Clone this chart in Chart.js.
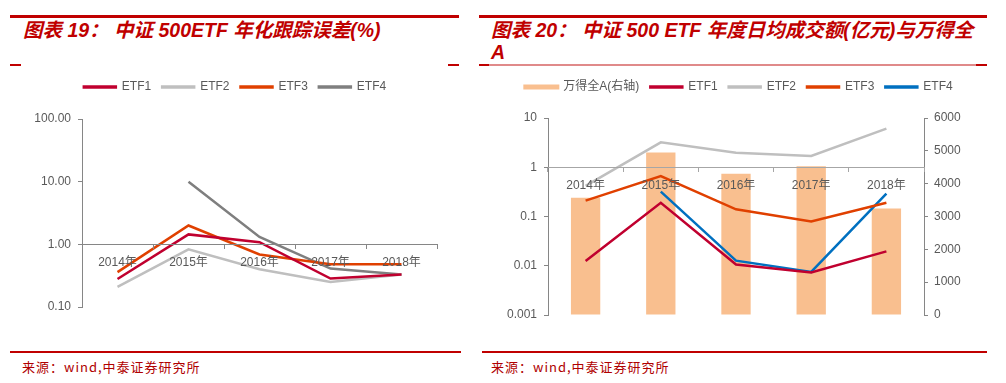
<!DOCTYPE html>
<html>
<head>
<meta charset="utf-8">
<script src="https://cdn.jsdelivr.net/npm/chart.js@4.4.1/dist/chart.umd.min.js"></script>
<style>
    html, body { margin: 0; padding: 0; background: #ffffff; }
    body { width: 1006px; height: 383px; position: relative; overflow: hidden; }
    .bar { position: absolute; background: #C00000; }
    .titulo { position: absolute; color: #C00000; font: italic bold 19.5px 'Liberation Sans', 'Noto Sans CJK SC', sans-serif; line-height: 22px; white-space: nowrap; }
    .fuente { position: absolute; color: #B00000; font: 13px 'Noto Sans CJK SC', sans-serif; letter-spacing: 1px; white-space: nowrap; }
    canvas { position: absolute; }
</style>
</head>
<body>
    <!-- cabecera izquierda -->
    <div class="bar" style="left:10px; top:15px; width:449px; height:3px;"></div>
    <div class="titulo" style="left:23px; top:19px;">图表 19：&nbsp;中证 500ETF 年化跟踪误差(%)</div>
    <div class="bar" style="left:10px; top:64px; width:11px; height:2px;"></div>
    <div class="bar" style="left:448px; top:64px; width:11px; height:2px;"></div>

    <!-- cabecera derecha -->
    <div class="bar" style="left:479px; top:15px; width:508px; height:3px;"></div>
    <div class="titulo" style="left:491px; top:19px;">图表 20：&nbsp;中证 500 ETF 年度日均成交额(亿元)与万得全<br>A</div>
    <div class="bar" style="left:479px; top:64px; width:10px; height:2px;"></div>
    <div class="bar" style="left:489px; top:64px; width:487px; height:2px; background:#E08A8A;"></div>
    <div class="bar" style="left:976px; top:64px; width:11px; height:2px;"></div>

    <canvas id="trackChart"></canvas>
    <canvas id="volumeChart"></canvas>

    <!-- pie -->
    <div class="bar" style="left:10px; top:351px; width:451px; height:2px;"></div>
    <div class="bar" style="left:482px; top:351px; width:505px; height:2px;"></div>
    <div class="fuente" style="left:22px; top:357px;">来源：wind,中泰证券研究所</div>
    <div class="fuente" style="left:491px; top:357px;">来源：wind,中泰证券研究所</div>

<script>
// Datos
const categories = ['2014年', '2015年', '2016年', '2017年', '2018年'];

// Figura 19: error de seguimiento anual (%)
const trackEtf1 = [0.28, 1.44, 1.08, 0.285, 0.33];
const trackEtf2 = [0.21, 0.83, 0.40, 0.25, 0.33];
const trackEtf3 = [0.36, 2.0, 0.69, 0.48, 0.48];
const trackEtf4 = [null, 10.0, 1.31, 0.41, 0.33];
const trackTicks = [0.1, 1, 10, 100];

// Figura 20: volumen medio diario (亿元) y 万得全A
const volEtf1 = [0.0125, 0.19, 0.0106, 0.0073, 0.0196];
const volEtf2 = [0.42, 3.2, 1.97, 1.69, 6.1];
const volEtf3 = [0.21, 0.66, 0.14, 0.079, 0.19];
const volEtf4 = [null, 0.32, 0.0127, 0.0075, 0.29];
const windA = [3570, 4950, 4300, 4530, 3240];
const volTicks = [0.001, 0.01, 0.1, 1, 10];

const FONT = "'Liberation Sans', 'Noto Sans CJK SC', sans-serif";
const TEXT_GREY = '#595959';
const AXIS_GREY = '#868686';

/**
 * Coloca un canvas en la página con tamaño fijo
 */
function placeCanvas(id, left, top, width, height) {
    const el = document.getElementById(id);
    el.style.left = left + 'px';
    el.style.top = top + 'px';
    el.width = width;
    el.height = height;
    el.style.width = width + 'px';
    el.style.height = height + 'px';
    return el;
}

/**
 * Deja solo las potencias de diez en un eje logarítmico
 */
function keepTicks(values) {
    return function (axis) {
        axis.ticks = values.map(v => ({ value: v }));
    };
}

/**
 * Fija el ancho del eje y los márgenes del área de trazado
 */
function fixBox(width, pad) {
    return function (scale) {
        scale.width = width;
        scale.paddingTop = pad.top || 0;
        scale.paddingBottom = pad.bottom || 0;
        scale.paddingRight = pad.right || 0;
        scale.paddingLeft = 0;
    };
}

function lineSet(label, data, color, yAxisID) {
    return {
        type: 'line',
        label: label,
        data: data,
        borderColor: color,
        backgroundColor: color,
        borderWidth: 2.5,
        pointRadius: 0,
        tension: 0,
        yAxisID: yAxisID,
        order: 0
    };
}

function legendOptions() {
    return {
        position: 'top',
        labels: {
            boxWidth: 32,
            boxHeight: 1,
            padding: 11,
            color: TEXT_GREY,
            font: { family: FONT, size: 12 },
            sort: (a, b) => a.datasetIndex - b.datasetIndex,
            generateLabels(chart) {
                const items = Chart.defaults.plugins.legend.labels.generateLabels(chart);
                items.forEach(it => {
                    const ds = chart.data.datasets[it.datasetIndex];
                    if (ds.type === 'bar') {
                        it.lineWidth = 4;
                        it.strokeStyle = ds.backgroundColor;
                    }
                });
                return items;
            }
        }
    };
}

// hueco vacío entre la leyenda y el área de trazado
function spacer(size) {
    return { display: true, text: ' ', weight: 500, position: 'top', padding: 0, font: { size: size, lineHeight: 1 } };
}

function xAxis(posAxis, lineColor) {
    return {
        type: 'category',
        position: { [posAxis]: 1 },
        offset: true,
        grid: { display: true, offset: true, drawOnChartArea: false, drawTicks: true, tickLength: 4, color: lineColor, z: 1 },
        border: { color: lineColor, width: 1, z: 1 },
        ticks: { color: TEXT_GREY, font: { family: FONT, size: 12 }, padding: 7, maxRotation: 0, z: 1 }
    };
}

/**
 * Figura 19 - error de seguimiento (escala logarítmica)
 */
function initTrackChart() {
    const ctx = placeCanvas('trackChart', 0, 70, 470, 260);
    new Chart(ctx, {
        type: 'line',
        data: {
            labels: categories,
            datasets: [
                lineSet('ETF1', trackEtf1, '#C0002F', 'y'),
                lineSet('ETF2', trackEtf2, '#BFBFBF', 'y'),
                lineSet('ETF3', trackEtf3, '#E04000', 'y'),
                lineSet('ETF4', trackEtf4, '#7F7F7F', 'y')
            ]
        },
        options: {
            responsive: false,
            animation: false,
            layout: { padding: 0 },
            plugins: { legend: legendOptions(), title: spacer(16), tooltip: { enabled: false } },
            scales: {
                x: xAxis('y', AXIS_GREY),
                y: {
                    type: 'logarithmic',
                    min: 0.1,
                    max: 100,
                    afterBuildTicks: keepTicks(trackTicks),
                    afterFit: fixBox(82, { bottom: 23, right: 33 }),
                    grid: { display: true, drawOnChartArea: false, tickLength: 4, color: AXIS_GREY },
                    border: { color: AXIS_GREY },
                    ticks: {
                        color: TEXT_GREY,
                        font: { family: FONT, size: 12 },
                        padding: 7,
                        callback: v => Number(v).toFixed(2)
                    }
                }
            }
        }
    });
}

/**
 * Figura 20 - volumen (log, eje izquierdo) y 万得全A (barras, eje derecho)
 */
function initVolumeChart() {
    const ctx = placeCanvas('volumeChart', 472, 70, 534, 260);
    new Chart(ctx, {
        data: {
            labels: categories,
            datasets: [
                {
                    type: 'bar',
                    label: '万得全A(右轴)',
                    data: windA,
                    backgroundColor: '#F9BF8F',
                    borderColor: '#F9BF8F',
                    borderWidth: 0,
                    barPercentage: 0.39,
                    categoryPercentage: 1,
                    yAxisID: 'yRight',
                    order: 1
                },
                lineSet('ETF1', volEtf1, '#C0002F', 'yLeft'),
                lineSet('ETF2', volEtf2, '#BFBFBF', 'yLeft'),
                lineSet('ETF3', volEtf3, '#E04000', 'yLeft'),
                lineSet('ETF4', volEtf4, '#0070C0', 'yLeft')
            ]
        },
        options: {
            responsive: false,
            animation: false,
            layout: { padding: 0 },
            plugins: { legend: legendOptions(), title: spacer(15), tooltip: { enabled: false } },
            scales: {
                x: xAxis('yLeft', '#A6A6A6'),
                yLeft: {
                    type: 'logarithmic',
                    position: 'left',
                    min: 0.001,
                    max: 10,
                    afterBuildTicks: keepTicks(volTicks),
                    afterFit: fixBox(76, { bottom: 15 }),
                    grid: { display: true, drawOnChartArea: false, tickLength: 4, color: AXIS_GREY },
                    border: { color: AXIS_GREY },
                    ticks: {
                        color: TEXT_GREY,
                        font: { family: FONT, size: 12 },
                        padding: 7,
                        callback: v => v >= 1 ? String(Math.round(v)) : Number(v).toFixed(-Math.round(Math.log10(v)))
                    }
                },
                yRight: {
                    type: 'linear',
                    position: 'right',
                    min: 0,
                    max: 6000,
                    afterFit: s => { s.width = 82; },
                    grid: { display: true, drawOnChartArea: false, tickLength: 4, color: AXIS_GREY },
                    border: { color: AXIS_GREY },
                    ticks: {
                        stepSize: 1000,
                        color: TEXT_GREY,
                        font: { family: FONT, size: 12 },
                        padding: 6,
                        callback: v => String(v)
                    }
                }
            }
        }
    });
}

initTrackChart();
initVolumeChart();
</script>
</body>
</html>
